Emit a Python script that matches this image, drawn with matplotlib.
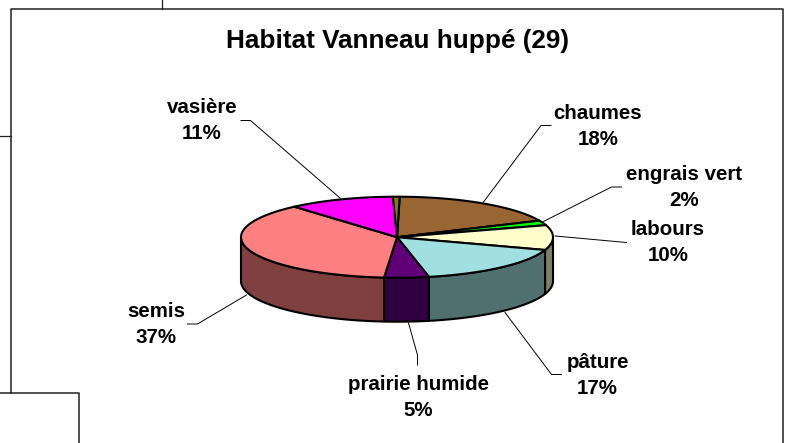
import numpy as np
import matplotlib
matplotlib.use("Agg")
import matplotlib.pyplot as plt
from matplotlib.patches import Polygon

plt.rcParams['font.family'] = ['Liberation Sans', 'DejaVu Sans']

# Habitat data (clockwise from the top of the pie)
habitats = ["chaumes", "engrais vert", "labours", "pâture", "prairie humide", "semis", "vasière", "autre"]
valeurs = [18.0, 1.9, 9.9, 16.6, 4.6, 37.2, 11.0, 0.7]
etiquettes = ["18%", "2%", "10%", "17%", "5%", "37%", "11%", None]
couleurs = ["#996633", "#00FF00", "#FFFFCC", "#A0E0E0", "#600078", "#FF8080", "#FF00FF", "#808000"]
couleursCote = ["#4D331A", "#008000", "#808066", "#507070", "#300040", "#804040", "#800080", "#404000"]

# label centres and leader lines, in pixels
posTexte = [(598, 126.5), (684.5, 187.5), (668, 242.5), (597.5, 375.5), (418.5, 397.5), (156, 324.5), (202, 120.5)]
leaders = [
    [(551, 125.5), (541, 125.5), (483.5, 202)],
    [(621.5, 187), (611.5, 187), (543.5, 221.5)],
    [(626.5, 242.5), (555, 236)],
    [(561.5, 374.5), (551.5, 374.5), (505, 312.5)],
    [(417.5, 365), (417.5, 355), (408.5, 323)],
    [(187.5, 324), (197.5, 324), (246.5, 295)],
    [(241, 120.5), (250.5, 120.5), (340, 198)],
]

cx, cy, rx, ry, prof = 397, 237.2, 156, 40.5, 44
depart = 1.0

def point(theta, dy=0):
    t = np.radians(theta)
    return np.column_stack((cx + rx * np.sin(t), cy - ry * np.cos(t) + dy))

fig = plt.figure(figsize=(7.91, 4.43), dpi=100)
ax = fig.add_axes([0, 0, 1, 1])
ax.set_xlim(0, 791)
ax.set_ylim(443, 0)
ax.axis("off")

# frames of the page behind the chart
ax.plot([11, 11, 782.5, 782.5], [393, 8.5, 8.5, 443], color="#202020", lw=1.1)
ax.plot([161.5, 161.5], [0, 8.5], color="#202020", lw=0.9)
ax.plot([0, 11], [136, 136], color="#202020", lw=0.9)
ax.plot([0, 79, 79], [392.8, 392.8, 443], color="#202020", lw=1.1)

ax.text(397, 41, "Habitat Vanneau huppé (29)", fontsize=18.8, fontweight="bold", ha="center", va="center")

angles = depart + np.cumsum([0] + valeurs) / sum(valeurs) * 360

# side of the pie, only the front half shows
for i in range(len(valeurs)):
    a, b = max(angles[i], 90), min(angles[i + 1], 270)
    if b > a:
        th = np.linspace(a, b, 80)
        pts = np.vstack((point(th), point(th[::-1], prof)))
        ax.add_patch(Polygon(pts, closed=True, facecolor=couleursCote[i], edgecolor="black", lw=1.5, joinstyle="round"))

# top of the pie
for i in range(len(valeurs)):
    th = np.linspace(angles[i], angles[i + 1], 80)
    pts = np.vstack(([[cx, cy]], point(th)))
    ax.add_patch(Polygon(pts, closed=True, facecolor=couleurs[i], edgecolor="black", lw=1.5, joinstyle="round"))

# labels and leaders
for i in range(len(etiquettes)):
    if etiquettes[i] is None:
        continue
    xs, ys = zip(*leaders[i])
    ax.plot(xs, ys, color="black", lw=0.7)
    ax.text(posTexte[i][0], posTexte[i][1], habitats[i] + "\n" + etiquettes[i], fontsize=14.8, fontweight="bold",
            ha="center", va="center", multialignment="center", linespacing=1.45)

plt.savefig("out.png", dpi=100)
